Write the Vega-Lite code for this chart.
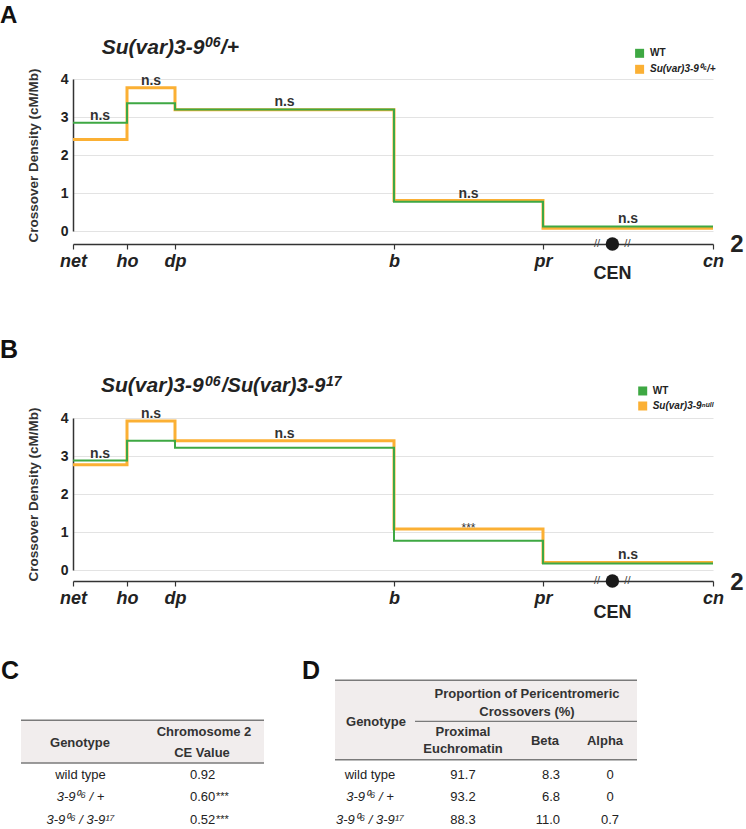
{
  "$schema": "https://vega.github.io/schema/vega-lite/v6.json",
  "padding": {"top": 3, "left": 0, "right": 0, "bottom": 0},
  "background": "white",
  "config": {"font": "Liberation Sans", "view": {"stroke": null}},
  "datasets": {
    "density": [
      {"panel": "A", "genotype": "WT", "marker": "net", "pos": 0, "density": 2.85},
      {"panel": "A", "genotype": "WT", "marker": "ho", "pos": 2.7, "density": 3.36},
      {"panel": "A", "genotype": "WT", "marker": "dp", "pos": 5.1, "density": 3.2},
      {"panel": "A", "genotype": "WT", "marker": "b", "pos": 16.05, "density": 0.77},
      {"panel": "A", "genotype": "WT", "marker": "pr", "pos": 23.5, "density": 0.12},
      {"panel": "A", "genotype": "WT", "marker": "cn", "pos": 32, "density": 0.12},
      {"panel": "A", "genotype": "Su(var)3-9⁰⁶/+", "marker": "net", "pos": 0, "density": 2.41},
      {"panel": "A", "genotype": "Su(var)3-9⁰⁶/+", "marker": "ho", "pos": 2.7, "density": 3.77},
      {"panel": "A", "genotype": "Su(var)3-9⁰⁶/+", "marker": "dp", "pos": 5.1, "density": 3.19},
      {"panel": "A", "genotype": "Su(var)3-9⁰⁶/+", "marker": "b", "pos": 16.05, "density": 0.8},
      {"panel": "A", "genotype": "Su(var)3-9⁰⁶/+", "marker": "pr", "pos": 23.5, "density": 0.07},
      {"panel": "A", "genotype": "Su(var)3-9⁰⁶/+", "marker": "cn", "pos": 32, "density": 0.07},
      {"panel": "B", "genotype": "WT", "marker": "net", "pos": 0, "density": 2.88},
      {"panel": "B", "genotype": "WT", "marker": "ho", "pos": 2.7, "density": 3.4},
      {"panel": "B", "genotype": "WT", "marker": "dp", "pos": 5.1, "density": 3.22},
      {"panel": "B", "genotype": "WT", "marker": "b", "pos": 16.05, "density": 0.77},
      {"panel": "B", "genotype": "WT", "marker": "pr", "pos": 23.5, "density": 0.17},
      {"panel": "B", "genotype": "WT", "marker": "cn", "pos": 32, "density": 0.17},
      {"panel": "B", "genotype": "Su(var)3-9ⁿᵘˡˡ", "marker": "net", "pos": 0, "density": 2.77},
      {"panel": "B", "genotype": "Su(var)3-9ⁿᵘˡˡ", "marker": "ho", "pos": 2.7, "density": 3.92},
      {"panel": "B", "genotype": "Su(var)3-9ⁿᵘˡˡ", "marker": "dp", "pos": 5.1, "density": 3.4},
      {"panel": "B", "genotype": "Su(var)3-9ⁿᵘˡˡ", "marker": "b", "pos": 16.05, "density": 1.08},
      {"panel": "B", "genotype": "Su(var)3-9ⁿᵘˡˡ", "marker": "pr", "pos": 23.5, "density": 0.2},
      {"panel": "B", "genotype": "Su(var)3-9ⁿᵘˡˡ", "marker": "cn", "pos": 32, "density": 0.2}
    ],
    "sig": [
      {"panel": "A", "mid": 1.35, "top": 2.85, "label": "n.s"},
      {"panel": "A", "mid": 3.9, "top": 3.77, "label": "n.s"},
      {"panel": "A", "mid": 10.575, "top": 3.2, "label": "n.s"},
      {"panel": "A", "mid": 19.775, "top": 0.8, "label": "n.s"},
      {"panel": "A", "mid": 27.75, "top": 0.12, "label": "n.s"},
      {"panel": "B", "mid": 1.35, "top": 2.88, "label": "n.s"},
      {"panel": "B", "mid": 3.9, "top": 3.92, "label": "n.s"},
      {"panel": "B", "mid": 10.575, "top": 3.4, "label": "n.s"},
      {"panel": "B", "mid": 19.775, "top": 1.08, "label": "***"},
      {"panel": "B", "mid": 27.75, "top": 0.2, "label": "n.s"}
    ],
    "cen": [
      {"panel": "A", "feature": "CEN", "pos": 26.97},
      {"panel": "B", "feature": "CEN", "pos": 26.97}
    ],
    "tables": [
      {"row": 1, "genotype": "wild type", "ce": 0.92, "ce_sig": "", "proximal": 91.7, "beta": 8.3, "alpha": 0},
      {"row": 2, "genotype": "3-9⁰⁶ / +", "ce": 0.6, "ce_sig": "***", "proximal": 93.2, "beta": 6.8, "alpha": 0},
      {"row": 3, "genotype": "3-9⁰⁶ / 3-9¹⁷", "ce": 0.52, "ce_sig": "***", "proximal": 88.3, "beta": 11.0, "alpha": 0.7}
    ]
  },
  "spacing": 31,
  "vconcat": [
    {
      "spacing": 54,
      "resolve": {"scale": {"color": "independent"}},
      "vconcat": [
        {
          "width": 640,
          "height": 152,
          "layer": [
            {
              "data": {"name": "density"},
              "transform": [{"filter": "datum.panel == 'A' && datum.genotype != 'WT'"}],
              "mark": {"type": "line", "interpolate": "step-after", "strokeWidth": 3},
              "encoding": {
                "x": {"field": "pos", "type": "quantitative", "scale": {"domain": [0, 32], "nice": false, "zero": false},
                  "axis": {"values": [0, 2.7, 5.1, 16.05, 23.5, 32], "labelExpr": "datum.value == 0 ? 'net' : datum.value == 2.7 ? 'ho' : datum.value == 5.1 ? 'dp' : datum.value == 16.05 ? 'b' : datum.value == 23.5 ? 'pr' : 'cn'", "offset": 13, "grid": false, "domainColor": "#333", "domainWidth": 1.5, "tickColor": "#333", "tickWidth": 1.2, "tickSize": 5, "labelFontSize": 18, "labelFontWeight": "bold", "labelFontStyle": "italic", "labelColor": "#222", "labelPadding": 3, "labelOverlap": false, "labelFlush": false, "labelBound": false, "title": null}},
                "y": {"field": "density", "type": "quantitative", "scale": {"domain": [0, 4], "nice": false, "zero": false},
                  "axis": {"values": [0, 1, 2, 3, 4], "tickCount": 5, "format": "d", "labelOverlap": false, "ticks": false, "grid": true, "gridColor": "#e3e3e3", "gridWidth": 1, "domainColor": "#333", "domainWidth": 1.5, "labelFontSize": 14, "labelFontWeight": "bold", "labelColor": "#222", "labelPadding": 5, "title": "Crossover Density (cM/Mb)", "titleFontSize": 13.5, "titleFontWeight": "bold", "titleColor": "#333", "titlePadding": 20}},
                "color": {"field": "genotype", "type": "nominal", "scale": {"domain": ["WT", "Su(var)3-9⁰⁶/+"], "range": ["#3ea843", "#fbb034"]}, "legend": null}
              }
            },
            {
              "data": {"name": "density"},
              "transform": [{"filter": "datum.panel == 'A' && datum.genotype == 'WT'"}],
              "mark": {"type": "line", "interpolate": "step-after", "strokeWidth": 2},
              "encoding": {
                "x": {"field": "pos", "type": "quantitative", "scale": {"domain": [0, 32], "nice": false, "zero": false}},
                "y": {"field": "density", "type": "quantitative", "scale": {"domain": [0, 4], "nice": false, "zero": false}},
                "color": {"field": "genotype", "type": "nominal", "scale": {"domain": ["WT", "Su(var)3-9⁰⁶/+"], "range": ["#3ea843", "#fbb034"]}, "legend": null}
              }
            },
            {
              "data": {"name": "sig"},
              "transform": [{"filter": "datum.panel == 'A'"}],
              "mark": {"type": "text", "align": "center", "baseline": "alphabetic", "dy": -3, "fontSize": 14, "fontWeight": "bold", "color": "#333"},
              "encoding": {
                "x": {"field": "mid", "type": "quantitative", "scale": {"domain": [0, 32], "nice": false, "zero": false}},
                "y": {"field": "top", "type": "quantitative", "scale": {"domain": [0, 4], "nice": false, "zero": false}},
                "text": {"field": "label"}
              }
            },
            {
              "data": {"name": "cen"},
              "transform": [{"filter": "datum.panel == 'A'"}],
              "mark": {"type": "point", "filled": true, "shape": "circle", "size": 180, "color": "#1a1a1a", "opacity": 1},
              "encoding": {
                "x": {"field": "pos", "type": "quantitative", "scale": {"domain": [0, 32], "nice": false, "zero": false}},
                "y": {"datum": -0.34, "type": "quantitative", "scale": {"domain": [0, 4], "nice": false, "zero": false}}
              }
            },
            {
              "data": {"name": "cen"},
              "transform": [{"filter": "datum.panel == 'A'"}],
              "mark": {"type": "text", "align": "center", "baseline": "alphabetic", "fontSize": 18, "fontWeight": "bold", "color": "#222"},
              "encoding": {
                "x": {"field": "pos", "type": "quantitative", "scale": {"domain": [0, 32], "nice": false, "zero": false}},
                "y": {"datum": -1.27, "type": "quantitative", "scale": {"domain": [0, 4], "nice": false, "zero": false}},
                "text": {"field": "feature"}
              }
            },
            {
              "data": {"values": [{"p": 26.2}, {"p": 27.72}]},
              "mark": {"type": "text", "text": "//", "align": "center", "baseline": "middle", "fontSize": 11, "color": "#444"},
              "encoding": {
                "x": {"field": "p", "type": "quantitative", "scale": {"domain": [0, 32], "nice": false, "zero": false}},
                "y": {"datum": -0.34, "type": "quantitative", "scale": {"domain": [0, 4], "nice": false, "zero": false}}
              }
            },
            {
              "data": {"values": [{}]},
              "mark": {"type": "text", "text": "2", "align": "center", "baseline": "alphabetic", "fontSize": 24, "fontWeight": "bold", "color": "#222"},
              "encoding": {
                "x": {"datum": 33.2, "type": "quantitative", "scale": {"domain": [0, 32], "nice": false, "zero": false}},
                "y": {"datum": -0.56, "type": "quantitative", "scale": {"domain": [0, 4], "nice": false, "zero": false}}
              }
            },
            {
              "data": {"values": [{"genotype": "WT"}]},
              "mark": {"type": "point", "shape": "square", "filled": true, "size": 81, "opacity": 1},
              "encoding": {
                "x": {"datum": 28.33, "type": "quantitative", "scale": {"domain": [0, 32], "nice": false, "zero": false}},
                "y": {"datum": 4.676, "type": "quantitative", "scale": {"domain": [0, 4], "nice": false, "zero": false}},
                "color": {"field": "genotype", "type": "nominal", "scale": {"domain": ["WT", "Su(var)3-9⁰⁶/+"], "range": ["#3ea843", "#fbb034"]}, "legend": null}
              }
            },
            {
              "data": {"values": [{"genotype": "Su(var)3-9⁰⁶/+"}]},
              "mark": {"type": "point", "shape": "square", "filled": true, "size": 81, "opacity": 1},
              "encoding": {
                "x": {"datum": 28.33, "type": "quantitative", "scale": {"domain": [0, 32], "nice": false, "zero": false}},
                "y": {"datum": 4.255, "type": "quantitative", "scale": {"domain": [0, 4], "nice": false, "zero": false}},
                "color": {"field": "genotype", "type": "nominal", "scale": {"domain": ["WT", "Su(var)3-9⁰⁶/+"], "range": ["#3ea843", "#fbb034"]}, "legend": null}
              }
            },
            {
              "data": {"values": [{"genotype": "WT"}]},
              "mark": {"type": "text", "align": "left", "baseline": "middle", "fontSize": 10, "fontWeight": "bold", "color": "#222"},
              "encoding": {
                "x": {"datum": 28.85, "type": "quantitative", "scale": {"domain": [0, 32], "nice": false, "zero": false}},
                "y": {"datum": 4.676, "type": "quantitative", "scale": {"domain": [0, 4], "nice": false, "zero": false}},
                "text": {"field": "genotype"}
              }
            },
            {
              "data": {"values": [{"genotype": "Su(var)3-9⁰⁶/+"}]},
              "mark": {"type": "text", "align": "left", "baseline": "middle", "fontSize": 10, "fontWeight": "bold", "fontStyle": "italic", "color": "#222"},
              "encoding": {
                "x": {"datum": 28.85, "type": "quantitative", "scale": {"domain": [0, 32], "nice": false, "zero": false}},
                "y": {"datum": 4.255, "type": "quantitative", "scale": {"domain": [0, 4], "nice": false, "zero": false}},
                "text": {"field": "genotype"}
              }
            },
            {
              "data": {"values": [{}]},
              "mark": {"type": "text", "text": "Su(var)3-9", "align": "left", "baseline": "alphabetic", "fontSize": 21, "fontWeight": "bold", "fontStyle": "italic", "color": "#222"},
              "encoding": {
                "x": {"datum": 1.435, "type": "quantitative", "scale": {"domain": [0, 32], "nice": false, "zero": false}},
                "y": {"datum": 4.658, "type": "quantitative", "scale": {"domain": [0, 4], "nice": false, "zero": false}}
              }
            },
            {
              "data": {"values": [{}]},
              "mark": {"type": "text", "text": "06", "align": "left", "baseline": "alphabetic", "fontSize": 14, "fontWeight": "bold", "fontStyle": "italic", "color": "#222"},
              "encoding": {
                "x": {"datum": 6.6, "type": "quantitative", "scale": {"domain": [0, 32], "nice": false, "zero": false}},
                "y": {"datum": 4.834, "type": "quantitative", "scale": {"domain": [0, 4], "nice": false, "zero": false}}
              }
            },
            {
              "data": {"values": [{}]},
              "mark": {"type": "text", "text": "/+", "align": "left", "baseline": "alphabetic", "fontSize": 21, "fontWeight": "bold", "fontStyle": "italic", "color": "#222"},
              "encoding": {
                "x": {"datum": 7.4, "type": "quantitative", "scale": {"domain": [0, 32], "nice": false, "zero": false}},
                "y": {"datum": 4.658, "type": "quantitative", "scale": {"domain": [0, 4], "nice": false, "zero": false}}
              }
            },
            {
              "data": {"values": [{}]},
              "mark": {"type": "text", "text": "A", "align": "left", "baseline": "alphabetic", "fontSize": 24, "fontWeight": "bold", "color": "#111"},
              "encoding": {
                "x": {"datum": -3.65, "type": "quantitative", "scale": {"domain": [0, 32], "nice": false, "zero": false}},
                "y": {"datum": 5.479, "type": "quantitative", "scale": {"domain": [0, 4], "nice": false, "zero": false}}
              }
            }
          ]
        },
        {
          "width": 640,
          "height": 152,
          "layer": [
            {
              "data": {"name": "density"},
              "transform": [{"filter": "datum.panel == 'B' && datum.genotype != 'WT'"}],
              "mark": {"type": "line", "interpolate": "step-after", "strokeWidth": 3},
              "encoding": {
                "x": {"field": "pos", "type": "quantitative", "scale": {"domain": [0, 32], "nice": false, "zero": false},
                  "axis": {"values": [0, 2.7, 5.1, 16.05, 23.5, 32], "labelExpr": "datum.value == 0 ? 'net' : datum.value == 2.7 ? 'ho' : datum.value == 5.1 ? 'dp' : datum.value == 16.05 ? 'b' : datum.value == 23.5 ? 'pr' : 'cn'", "offset": 11, "grid": false, "domainColor": "#333", "domainWidth": 1.5, "tickColor": "#333", "tickWidth": 1.2, "tickSize": 5, "labelFontSize": 18, "labelFontWeight": "bold", "labelFontStyle": "italic", "labelColor": "#222", "labelPadding": 3, "labelOverlap": false, "labelFlush": false, "labelBound": false, "title": null}},
                "y": {"field": "density", "type": "quantitative", "scale": {"domain": [0, 4], "nice": false, "zero": false},
                  "axis": {"values": [0, 1, 2, 3, 4], "tickCount": 5, "format": "d", "labelOverlap": false, "ticks": false, "grid": true, "gridColor": "#e3e3e3", "gridWidth": 1, "domainColor": "#333", "domainWidth": 1.5, "labelFontSize": 14, "labelFontWeight": "bold", "labelColor": "#222", "labelPadding": 5, "title": "Crossover Density (cM/Mb)", "titleFontSize": 13.5, "titleFontWeight": "bold", "titleColor": "#333", "titlePadding": 20}},
                "color": {"field": "genotype", "type": "nominal", "scale": {"domain": ["WT", "Su(var)3-9ⁿᵘˡˡ"], "range": ["#3ea843", "#fbb034"]}, "legend": null}
              }
            },
            {
              "data": {"name": "density"},
              "transform": [{"filter": "datum.panel == 'B' && datum.genotype == 'WT'"}],
              "mark": {"type": "line", "interpolate": "step-after", "strokeWidth": 2},
              "encoding": {
                "x": {"field": "pos", "type": "quantitative", "scale": {"domain": [0, 32], "nice": false, "zero": false}},
                "y": {"field": "density", "type": "quantitative", "scale": {"domain": [0, 4], "nice": false, "zero": false}},
                "color": {"field": "genotype", "type": "nominal", "scale": {"domain": ["WT", "Su(var)3-9ⁿᵘˡˡ"], "range": ["#3ea843", "#fbb034"]}, "legend": null}
              }
            },
            {
              "data": {"name": "sig"},
              "transform": [{"filter": "datum.panel == 'B'"}],
              "mark": {"type": "text", "align": "center", "baseline": "alphabetic", "dy": {"expr": "datum.label == '***' ? 3 : -3"}, "fontSize": {"expr": "datum.label == '***' ? 12 : 14"}, "fontWeight": {"expr": "datum.label == '***' ? 'normal' : 'bold'"}, "color": "#333"},
              "encoding": {
                "x": {"field": "mid", "type": "quantitative", "scale": {"domain": [0, 32], "nice": false, "zero": false}},
                "y": {"field": "top", "type": "quantitative", "scale": {"domain": [0, 4], "nice": false, "zero": false}},
                "text": {"field": "label"}
              }
            },
            {
              "data": {"name": "cen"},
              "transform": [{"filter": "datum.panel == 'B'"}],
              "mark": {"type": "point", "filled": true, "shape": "circle", "size": 180, "color": "#1a1a1a", "opacity": 1},
              "encoding": {
                "x": {"field": "pos", "type": "quantitative", "scale": {"domain": [0, 32], "nice": false, "zero": false}},
                "y": {"datum": -0.29, "type": "quantitative", "scale": {"domain": [0, 4], "nice": false, "zero": false}}
              }
            },
            {
              "data": {"name": "cen"},
              "transform": [{"filter": "datum.panel == 'B'"}],
              "mark": {"type": "text", "align": "center", "baseline": "alphabetic", "fontSize": 18, "fontWeight": "bold", "color": "#222"},
              "encoding": {
                "x": {"field": "pos", "type": "quantitative", "scale": {"domain": [0, 32], "nice": false, "zero": false}},
                "y": {"datum": -1.25, "type": "quantitative", "scale": {"domain": [0, 4], "nice": false, "zero": false}},
                "text": {"field": "feature"}
              }
            },
            {
              "data": {"values": [{"p": 26.2}, {"p": 27.72}]},
              "mark": {"type": "text", "text": "//", "align": "center", "baseline": "middle", "fontSize": 11, "color": "#444"},
              "encoding": {
                "x": {"field": "p", "type": "quantitative", "scale": {"domain": [0, 32], "nice": false, "zero": false}},
                "y": {"datum": -0.29, "type": "quantitative", "scale": {"domain": [0, 4], "nice": false, "zero": false}}
              }
            },
            {
              "data": {"values": [{}]},
              "mark": {"type": "text", "text": "2", "align": "center", "baseline": "alphabetic", "fontSize": 24, "fontWeight": "bold", "color": "#222"},
              "encoding": {
                "x": {"datum": 33.2, "type": "quantitative", "scale": {"domain": [0, 32], "nice": false, "zero": false}},
                "y": {"datum": -0.52, "type": "quantitative", "scale": {"domain": [0, 4], "nice": false, "zero": false}}
              }
            },
            {
              "data": {"values": [{"genotype": "WT"}]},
              "mark": {"type": "point", "shape": "square", "filled": true, "size": 81, "opacity": 1},
              "encoding": {
                "x": {"datum": 28.485, "type": "quantitative", "scale": {"domain": [0, 32], "nice": false, "zero": false}},
                "y": {"datum": 4.711, "type": "quantitative", "scale": {"domain": [0, 4], "nice": false, "zero": false}},
                "color": {"field": "genotype", "type": "nominal", "scale": {"domain": ["WT", "Su(var)3-9ⁿᵘˡˡ"], "range": ["#3ea843", "#fbb034"]}, "legend": null}
              }
            },
            {
              "data": {"values": [{"genotype": "Su(var)3-9ⁿᵘˡˡ"}]},
              "mark": {"type": "point", "shape": "square", "filled": true, "size": 81, "opacity": 1},
              "encoding": {
                "x": {"datum": 28.485, "type": "quantitative", "scale": {"domain": [0, 32], "nice": false, "zero": false}},
                "y": {"datum": 4.316, "type": "quantitative", "scale": {"domain": [0, 4], "nice": false, "zero": false}},
                "color": {"field": "genotype", "type": "nominal", "scale": {"domain": ["WT", "Su(var)3-9ⁿᵘˡˡ"], "range": ["#3ea843", "#fbb034"]}, "legend": null}
              }
            },
            {
              "data": {"values": [{"genotype": "WT"}]},
              "mark": {"type": "text", "align": "left", "baseline": "middle", "fontSize": 10, "fontWeight": "bold", "color": "#222"},
              "encoding": {
                "x": {"datum": 28.985, "type": "quantitative", "scale": {"domain": [0, 32], "nice": false, "zero": false}},
                "y": {"datum": 4.711, "type": "quantitative", "scale": {"domain": [0, 4], "nice": false, "zero": false}},
                "text": {"field": "genotype"}
              }
            },
            {
              "data": {"values": [{"genotype": "Su(var)3-9ⁿᵘˡˡ"}]},
              "mark": {"type": "text", "align": "left", "baseline": "middle", "fontSize": 10, "fontWeight": "bold", "fontStyle": "italic", "color": "#222"},
              "encoding": {
                "x": {"datum": 28.985, "type": "quantitative", "scale": {"domain": [0, 32], "nice": false, "zero": false}},
                "y": {"datum": 4.316, "type": "quantitative", "scale": {"domain": [0, 4], "nice": false, "zero": false}},
                "text": {"field": "genotype"}
              }
            },
            {
              "data": {"values": [{}]},
              "mark": {"type": "text", "text": "Su(var)3-9", "align": "left", "baseline": "alphabetic", "fontSize": 21, "fontWeight": "bold", "fontStyle": "italic", "color": "#222"},
              "encoding": {
                "x": {"datum": 1.4, "type": "quantitative", "scale": {"domain": [0, 32], "nice": false, "zero": false}},
                "y": {"datum": 4.674, "type": "quantitative", "scale": {"domain": [0, 4], "nice": false, "zero": false}}
              }
            },
            {
              "data": {"values": [{}]},
              "mark": {"type": "text", "text": "06", "align": "left", "baseline": "alphabetic", "fontSize": 14, "fontWeight": "bold", "fontStyle": "italic", "color": "#222"},
              "encoding": {
                "x": {"datum": 6.6, "type": "quantitative", "scale": {"domain": [0, 32], "nice": false, "zero": false}},
                "y": {"datum": 4.85, "type": "quantitative", "scale": {"domain": [0, 4], "nice": false, "zero": false}}
              }
            },
            {
              "data": {"values": [{}]},
              "mark": {"type": "text", "text": "/Su(var)3-9", "align": "left", "baseline": "alphabetic", "fontSize": 20, "fontWeight": "bold", "fontStyle": "italic", "color": "#222"},
              "encoding": {
                "x": {"datum": 7.45, "type": "quantitative", "scale": {"domain": [0, 32], "nice": false, "zero": false}},
                "y": {"datum": 4.674, "type": "quantitative", "scale": {"domain": [0, 4], "nice": false, "zero": false}}
              }
            },
            {
              "data": {"values": [{}]},
              "mark": {"type": "text", "text": "17", "align": "left", "baseline": "alphabetic", "fontSize": 14, "fontWeight": "bold", "fontStyle": "italic", "color": "#222"},
              "encoding": {
                "x": {"datum": 12.65, "type": "quantitative", "scale": {"domain": [0, 32], "nice": false, "zero": false}},
                "y": {"datum": 4.85, "type": "quantitative", "scale": {"domain": [0, 4], "nice": false, "zero": false}}
              }
            },
            {
              "data": {"values": [{}]},
              "mark": {"type": "text", "text": "B", "align": "left", "baseline": "alphabetic", "fontSize": 25, "fontWeight": "bold", "color": "#111"},
              "encoding": {
                "x": {"datum": -3.65, "type": "quantitative", "scale": {"domain": [0, 32], "nice": false, "zero": false}},
                "y": {"datum": 5.568, "type": "quantitative", "scale": {"domain": [0, 4], "nice": false, "zero": false}}
              }
            }
          ]
        }
      ]
    },
    {
      "width": 673,
      "height": 179,
      "layer": [
        {"data": {"values": [{}]}, "mark": {"type": "rect", "color": "#f1eded"},
          "encoding": {"x": {"datum": 21, "type": "quantitative", "scale": {"domain": [73, 746], "nice": false, "zero": false}, "axis": null}, "x2": {"datum": 264},
            "y": {"datum": -1.638, "type": "quantitative", "scale": {"domain": [-4.663, 3.382], "nice": false, "zero": false, "reverse": true}, "axis": null}, "y2": {"datum": 0.281}}},
        {"data": {"values": [{}]}, "mark": {"type": "rect", "color": "#f1eded"},
          "encoding": {"x": {"datum": 335, "type": "quantitative", "scale": {"domain": [73, 746], "nice": false, "zero": false}, "axis": null}, "x2": {"datum": 637},
            "y": {"datum": -3.436, "type": "quantitative", "scale": {"domain": [-4.663, 3.382], "nice": false, "zero": false, "reverse": true}, "axis": null}, "y2": {"datum": 0.133}}},
        {"data": {"values": [{"y": -1.638}, {"y": 0.281}, {"y": 3.351}]}, "mark": {"type": "rule", "color": "#7a7a7a", "strokeWidth": 1.5},
          "encoding": {"x": {"datum": 21, "type": "quantitative", "scale": {"domain": [73, 746], "nice": false, "zero": false}, "axis": null}, "x2": {"datum": 264},
            "y": {"field": "y", "type": "quantitative", "scale": {"domain": [-4.663, 3.382], "nice": false, "zero": false, "reverse": true}, "axis": null}}},
        {"data": {"values": [{"y": -3.436}, {"y": 0.133}, {"y": 3.351}]}, "mark": {"type": "rule", "color": "#7a7a7a", "strokeWidth": 1.5},
          "encoding": {"x": {"datum": 335, "type": "quantitative", "scale": {"domain": [73, 746], "nice": false, "zero": false}, "axis": null}, "x2": {"datum": 637},
            "y": {"field": "y", "type": "quantitative", "scale": {"domain": [-4.663, 3.382], "nice": false, "zero": false, "reverse": true}, "axis": null}}},
        {"data": {"values": [{}]}, "mark": {"type": "rule", "color": "#7a7a7a", "strokeWidth": 1.2},
          "encoding": {"x": {"datum": 415, "type": "quantitative", "scale": {"domain": [73, 746], "nice": false, "zero": false}, "axis": null}, "x2": {"datum": 637},
            "y": {"datum": -1.593, "type": "quantitative", "scale": {"domain": [-4.663, 3.382], "nice": false, "zero": false, "reverse": true}, "axis": null}}},
        {"data": {"values": [
            {"t": "Genotype", "x": 80, "y": -0.438},
            {"t": "Chromosome 2", "x": 204, "y": -0.919},
            {"t": "CE Value", "x": 202, "y": 0.025},
            {"t": "Proportion of Pericentromeric", "x": 527, "y": -2.64},
            {"t": "Crossovers (%)", "x": 527, "y": -1.845},
            {"t": "Genotype", "x": 376, "y": -1.396},
            {"t": "Proximal", "x": 463, "y": -0.946},
            {"t": "Euchromatin", "x": 463, "y": -0.169},
            {"t": "Beta", "x": 545, "y": -0.542},
            {"t": "Alpha", "x": 605, "y": -0.542}
          ]},
          "mark": {"type": "text", "align": "center", "baseline": "alphabetic", "fontSize": 13, "fontWeight": "bold", "color": "#333"},
          "encoding": {"x": {"field": "x", "type": "quantitative", "scale": {"domain": [73, 746], "nice": false, "zero": false}, "axis": null},
            "y": {"field": "y", "type": "quantitative", "scale": {"domain": [-4.663, 3.382], "nice": false, "zero": false, "reverse": true}, "axis": null},
            "text": {"field": "t"}}},
        {"data": {"values": [{"t": "C", "x": 1}, {"t": "D", "x": 302}]},
          "mark": {"type": "text", "align": "left", "baseline": "alphabetic", "fontSize": 25, "fontWeight": "bold", "color": "#111"},
          "encoding": {"x": {"field": "x", "type": "quantitative", "scale": {"domain": [73, 746], "nice": false, "zero": false}, "axis": null},
            "y": {"datum": -3.49, "type": "quantitative", "scale": {"domain": [-4.663, 3.382], "nice": false, "zero": false, "reverse": true}, "axis": null},
            "text": {"field": "t"}}},
        {"data": {"name": "tables"},
          "mark": {"type": "text", "align": "center", "baseline": "alphabetic", "fontSize": 13, "color": "#222", "fontStyle": {"expr": "datum.genotype == 'wild type' ? 'normal' : 'italic'"}},
          "encoding": {"x": {"datum": 80.5, "type": "quantitative", "scale": {"domain": [73, 746], "nice": false, "zero": false}, "axis": null},
            "y": {"field": "row", "type": "quantitative", "scale": {"domain": [-4.663, 3.382], "nice": false, "zero": false, "reverse": true}, "axis": null},
            "text": {"field": "genotype"}}},
        {"data": {"name": "tables"},
          "mark": {"type": "text", "align": "left", "baseline": "alphabetic", "fontSize": 13, "color": "#222"},
          "encoding": {"x": {"datum": 190, "type": "quantitative", "scale": {"domain": [73, 746], "nice": false, "zero": false}, "axis": null},
            "y": {"field": "row", "type": "quantitative", "scale": {"domain": [-4.663, 3.382], "nice": false, "zero": false, "reverse": true}, "axis": null},
            "text": {"field": "ce", "format": ".2f"}}},
        {"data": {"name": "tables"},
          "mark": {"type": "text", "align": "left", "baseline": "alphabetic", "fontSize": 11, "dy": -1, "color": "#222"},
          "encoding": {"x": {"datum": 216, "type": "quantitative", "scale": {"domain": [73, 746], "nice": false, "zero": false}, "axis": null},
            "y": {"field": "row", "type": "quantitative", "scale": {"domain": [-4.663, 3.382], "nice": false, "zero": false, "reverse": true}, "axis": null},
            "text": {"field": "ce_sig"}}},
        {"data": {"name": "tables"},
          "mark": {"type": "text", "align": "center", "baseline": "alphabetic", "fontSize": 13, "color": "#222", "fontStyle": {"expr": "datum.genotype == 'wild type' ? 'normal' : 'italic'"}},
          "encoding": {"x": {"datum": 370, "type": "quantitative", "scale": {"domain": [73, 746], "nice": false, "zero": false}, "axis": null},
            "y": {"field": "row", "type": "quantitative", "scale": {"domain": [-4.663, 3.382], "nice": false, "zero": false, "reverse": true}, "axis": null},
            "text": {"field": "genotype"}}},
        {"data": {"name": "tables"},
          "mark": {"type": "text", "align": "center", "baseline": "alphabetic", "fontSize": 13, "color": "#222"},
          "encoding": {"x": {"datum": 463, "type": "quantitative", "scale": {"domain": [73, 746], "nice": false, "zero": false}, "axis": null},
            "y": {"field": "row", "type": "quantitative", "scale": {"domain": [-4.663, 3.382], "nice": false, "zero": false, "reverse": true}, "axis": null},
            "text": {"field": "proximal", "format": ".1f"}}},
        {"data": {"name": "tables"},
          "mark": {"type": "text", "align": "right", "baseline": "alphabetic", "fontSize": 13, "color": "#222"},
          "encoding": {"x": {"datum": 560, "type": "quantitative", "scale": {"domain": [73, 746], "nice": false, "zero": false}, "axis": null},
            "y": {"field": "row", "type": "quantitative", "scale": {"domain": [-4.663, 3.382], "nice": false, "zero": false, "reverse": true}, "axis": null},
            "text": {"field": "beta", "format": ".1f"}}},
        {"data": {"name": "tables"},
          "mark": {"type": "text", "align": "center", "baseline": "alphabetic", "fontSize": 13, "color": "#222"},
          "encoding": {"x": {"datum": 610, "type": "quantitative", "scale": {"domain": [73, 746], "nice": false, "zero": false}, "axis": null},
            "y": {"field": "row", "type": "quantitative", "scale": {"domain": [-4.663, 3.382], "nice": false, "zero": false, "reverse": true}, "axis": null},
            "text": {"field": "alpha", "format": "~g"}}}
      ]
    }
  ]
}
